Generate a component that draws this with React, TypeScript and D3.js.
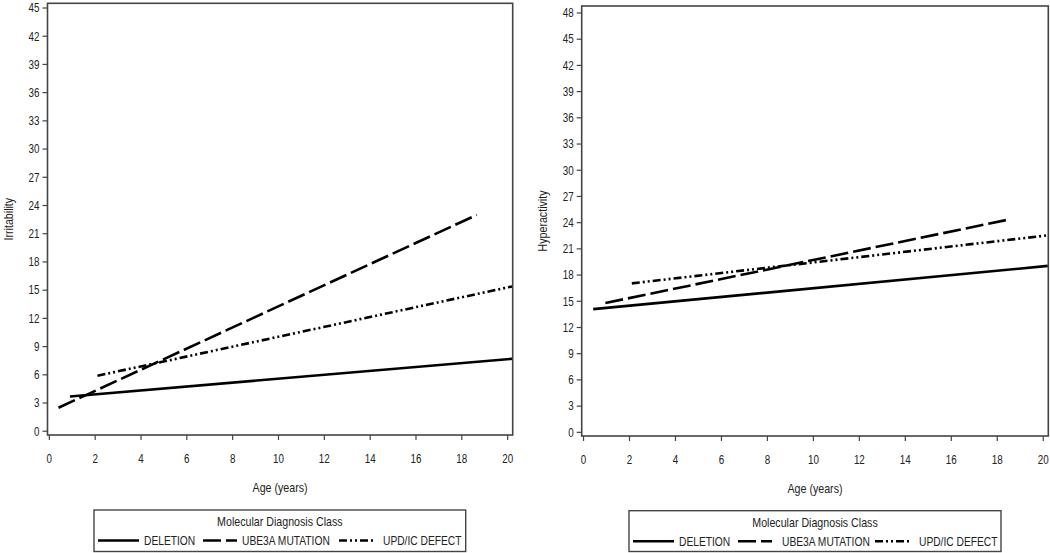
import React from "react";
import * as d3 from "d3";

const seriesNames = ["DELETION", "UBE3A MUTATION", "UPD/IC DEFECT"];
const legendTitle = "Molecular Diagnosis Class";
const xLabel = "Age (years)";
const xTicks = [0, 2, 4, 6, 8, 10, 12, 14, 16, 18, 20];

// Irritability panel: [age, value] endpoints of each fitted line
const irritDeletion = [[0.9, 3.7], [20.2, 7.7]];
const irritUbe3a = [[0.4, 2.5], [18.65, 23.0]];
const irritUpd = [[2.1, 5.9], [20.2, 15.4]];
const irritTicks = [0, 3, 6, 9, 12, 15, 18, 21, 24, 27, 30, 33, 36, 39, 42, 45];

// Hyperactivity panel
const hyperDeletion = [[0.42, 14.1], [20.2, 19.05]];
const hyperUbe3a = [[0.95, 14.8], [18.58, 24.4]];
const hyperUpd = [[2.1, 17.05], [20.2, 22.55]];
const hyperTicks = [0, 3, 6, 9, 12, 15, 18, 21, 24, 27, 30, 33, 36, 39, 42, 45, 48];

const FONT = "'Liberation Sans', Arial, sans-serif";
const SX = 0.82;
const dashes = ["none", "18 5", "8 3 2 3 2 3"];

function T(props: { x: number; y: number; size: number; anchor?: string; rotate?: boolean; children: React.ReactNode }) {
  const { x, y, size, anchor = "start", rotate = false, children } = props;
  return (
    <text transform={`translate(${x},${y})${rotate ? " rotate(-90)" : ""} scale(${SX},1)`}
      textAnchor={anchor} fontSize={size} fill="#222">{children}</text>
  );
}

type PanelProps = {
  x0: number; x1: number; y0: number; y1: number;
  yDomain: [number, number];
  yTicks: number[];
  yLabel: string;
  yLabelX: number;
  series: number[][][];
  legend: { left: number; right: number; top: number; bottom: number; items: number[][] };
};

function Panel(p: PanelProps) {
  const xs = d3.scaleLinear().domain([-0.08, 20.22]).range([p.x0, p.x1]);
  const ys = d3.scaleLinear().domain(p.yDomain).range([p.y1, p.y0]);
  const line = d3.line<number[]>().x((d) => xs(d[0])).y((d) => ys(d[1]));
  const frame = "#444";
  const cx = (p.x0 + p.x1) / 2;
  const cy = (p.y0 + p.y1) / 2;
  const L = p.legend;
  return (
    <g fontFamily={FONT}>
      <defs>
        <clipPath id={`clip-${p.yLabel}`}>
          <rect x={p.x0} y={p.y0} width={p.x1 - p.x0} height={p.y1 - p.y0} />
        </clipPath>
      </defs>
      {p.series.map((s, i) => (
        <path key={i} d={line(s) || ""} fill="none" stroke="#000" strokeWidth={2.6}
          strokeDasharray={dashes[i]} clipPath={`url(#clip-${p.yLabel})`} />
      ))}
      <rect x={p.x0} y={p.y0} width={p.x1 - p.x0} height={p.y1 - p.y0} fill="none" stroke={frame} strokeWidth={1.6} />
      {p.yTicks.map((t) => (
        <g key={t}>
          <line x1={p.x0 - 5} x2={p.x0} y1={ys(t)} y2={ys(t)} stroke={frame} strokeWidth={1.2} />
          <T x={p.x0 - 8} y={ys(t) + 4.3} size={12} anchor="end">{t}</T>
        </g>
      ))}
      {xTicks.map((t) => (
        <g key={t}>
          <line x1={xs(t)} x2={xs(t)} y1={p.y1} y2={p.y1 + 5} stroke={frame} strokeWidth={1.2} />
          <T x={xs(t)} y={p.y1 + 28} size={12} anchor="middle">{t}</T>
        </g>
      ))}
      <T x={cx} y={p.y1 + 57} size={13} anchor="middle">{xLabel}</T>
      <T x={p.yLabelX} y={cy} size={13} anchor="middle" rotate>{p.yLabel}</T>
      <rect x={L.left} y={L.top} width={L.right - L.left} height={L.bottom - L.top} fill="none" stroke={frame} strokeWidth={1.4} />
      <T x={(L.left + L.right) / 2} y={L.top + 16} size={13} anchor="middle">{legendTitle}</T>
      {seriesNames.map((n, i) => {
        const [a, b, tx] = L.items[i];
        const yy = L.top + 30.5;
        return (
          <g key={n}>
            <line x1={a} x2={b} y1={yy} y2={yy} stroke="#000" strokeWidth={2.6} strokeDasharray={dashes[i]} />
            <T x={tx} y={yy + 4.5} size={12.5}>{n}</T>
          </g>
        );
      })}
    </g>
  );
}

export default function App() {
  return (
    <svg width={1050} height={553} style={{ position: "absolute", left: 0, top: 0, background: "#fff" }}>
      <rect width={1050} height={553} fill="#fff" />
      <Panel x0={47.5} x1={512.7} y0={3.3} y1={435} yDomain={[-0.4, 45.5]} yTicks={irritTicks}
        yLabel="Irritability" yLabelX={13}
        series={[irritDeletion, irritUbe3a, irritUpd]}
        legend={{ left: 94, right: 465.7, top: 510, bottom: 551.5, items: [[98, 139, 144], [203, 237, 242], [339, 376, 383]] }} />
      <Panel x0={581.7} x1={1048.3} y0={6} y1={436} yDomain={[-0.42, 48.8]} yTicks={hyperTicks}
        yLabel="Hyperactivity" yLabelX={547}
        series={[hyperDeletion, hyperUbe3a, hyperUpd]}
        legend={{ left: 629, right: 1001, top: 510.7, bottom: 551.5, items: [[633, 674, 679], [738, 772, 782], [875, 910, 919]] }} />
    </svg>
  );
}
